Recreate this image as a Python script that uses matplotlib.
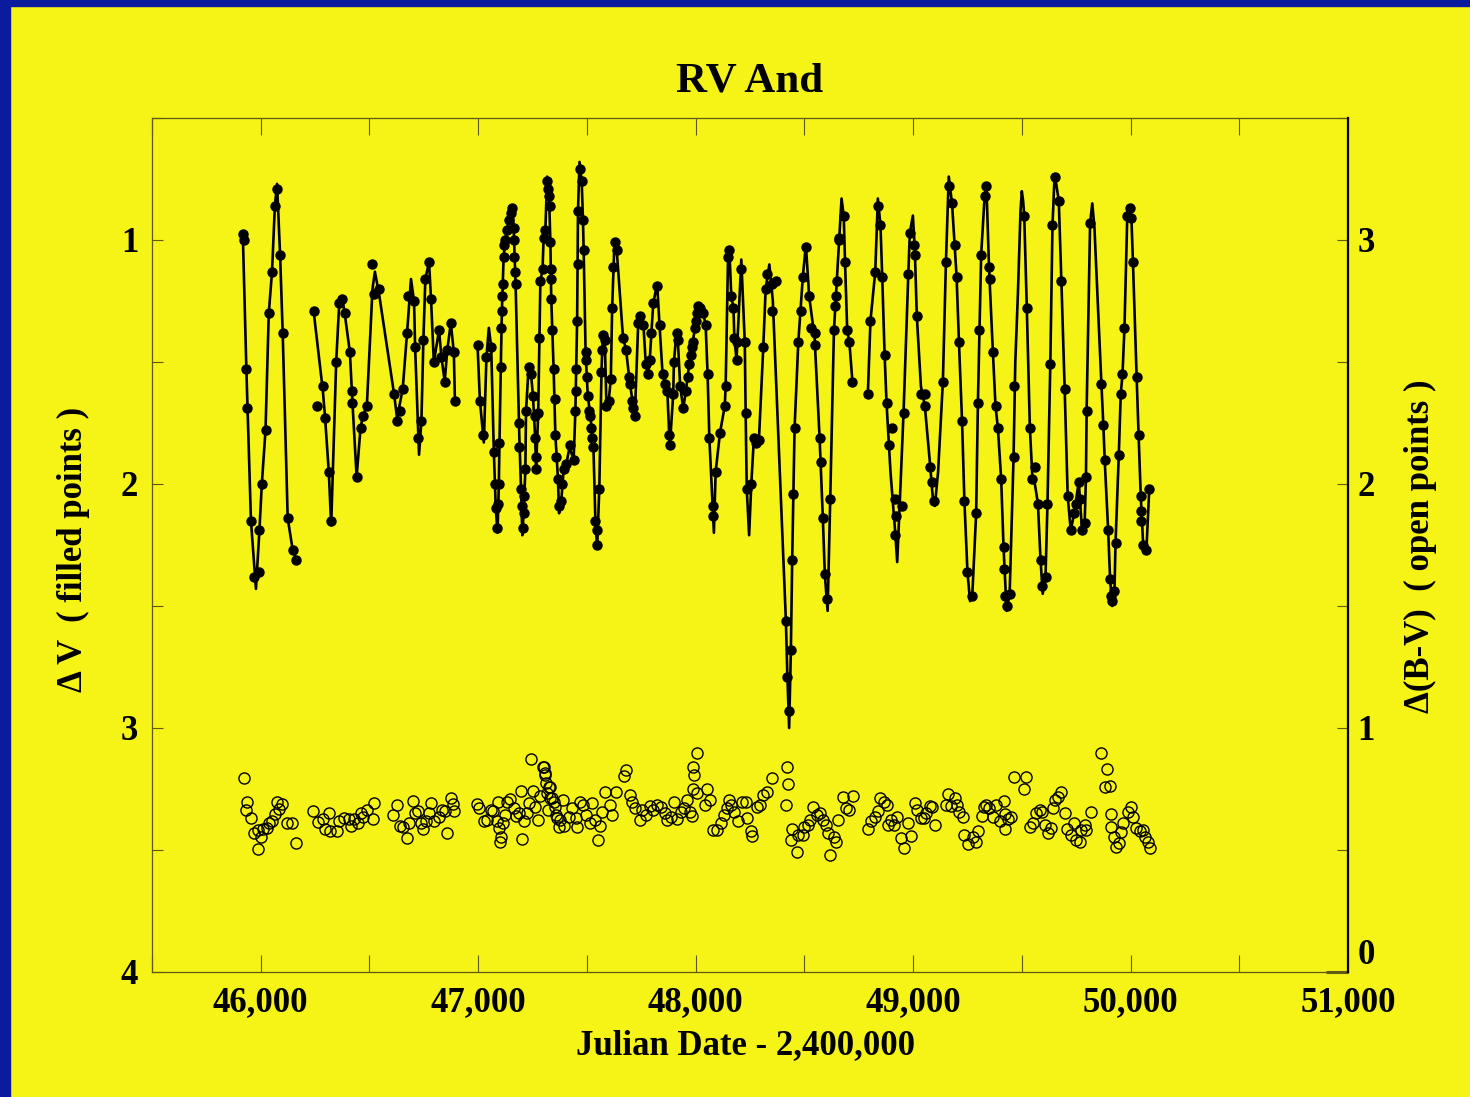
import matplotlib
matplotlib.use("Agg")
import matplotlib.pyplot as plt
from matplotlib.ticker import FuncFormatter, MultipleLocator
from matplotlib.patches import Rectangle

# Filled points: Delta V (left axis, inverted)
filled_jd = [45918, 45922, 45934, 45939, 45955, 45969, 45991, 45994, 46005, 46022, 46037, 46052, 46065, 46075,
             46089, 46101, 46124, 46147, 46163,
             46243, 46261, 46286, 46296, 46313, 46323, 46347, 46361, 46373, 46386, 46410, 46418, 46422, 46441,
             46459, 46470, 46488, 46514, 46519, 46544, 46613, 46627, 46642, 46653, 46673, 46679, 46705, 46710,
             46722, 46739, 46748, 46757, 46774, 46783, 46796, 46820, 46831, 46846, 46858, 46874, 46888, 46893,
             46997, 47008, 47024, 47038, 47060, 47072, 47078, 47081, 47086, 47090, 47095, 47098, 47104, 47106,
             47109, 47111, 47112, 47117, 47120, 47124, 47132, 47141, 47150, 47157, 47163, 47166, 47166, 47169,
             47172, 47189, 47189, 47197, 47201, 47204, 47209, 47213, 47217, 47220, 47232, 47243, 47252, 47260,
             47262, 47264, 47266, 47276, 47281, 47286, 47296, 47301, 47309, 47317, 47321, 47326, 47328, 47332,
             47333, 47335, 47336, 47341, 47347, 47352, 47355, 47359, 47367, 47373, 47382, 47387, 47393, 47405,
             47420, 47439, 47447, 47449, 47450, 47455, 47458, 47459, 47467, 47476, 47482, 47485, 47494, 47498,
             47501, 47504, 47510, 47516, 47519, 47525, 47530, 47539, 47545, 47547, 47557, 47567, 47570, 47573,
             47582, 47590, 47600, 47610, 47616, 47619, 47627, 47637, 47666, 47680, 47694, 47700, 47709, 47714,
             47720, 47736, 47746, 47760, 47771, 47782, 47789, 47797, 47805, 47823, 47834, 47848, 47860, 47870,
             47879, 47881, 47897, 47900, 47912, 47918, 47929, 47943, 47955, 47966, 47970, 47977, 47983, 47989,
             47997, 48001, 48005, 48011, 48022, 48035, 48046, 48055, 48063, 48080, 48080, 48092, 48112, 48134,
             48138, 48149, 48155, 48164, 48174, 48178, 48188, 48192, 48210, 48226, 48230, 48235, 48256, 48268,
             48277, 48291, 48311, 48322, 48328, 48350, 48353, 48369, 48415, 48422, 48430, 48438, 48444, 48450,
             48455, 48472, 48483, 48493, 48507, 48522, 48529, 48547, 48547, 48570, 48577, 48585, 48594, 48605,
             48619, 48636, 48641, 48647, 48649, 48658, 48661, 48681, 48687, 48697, 48707, 48721,
             48792, 48804, 48826, 48837, 48850, 48858, 48869, 48878, 48889, 48903, 48918, 48921, 48918, 48947,
             48956, 48978, 48985, 49006, 49010, 49017, 49036, 49053, 49054, 49079, 49085, 49097, 49137, 49151,
             49165, 49179, 49191, 49200, 49211, 49225, 49236, 49250, 49272, 49290, 49298, 49301, 49313, 49329,
             49335, 49349, 49352, 49367, 49379, 49390, 49405, 49416, 49419, 49424, 49432, 49444, 49462, 49466,
             49511, 49523, 49537, 49549, 49561, 49574, 49586, 49594, 49609, 49618, 49631, 49641, 49651, 49670,
             49682, 49697, 49711, 49725, 49741, 49747, 49762, 49768, 49777, 49789, 49795, 49798, 49814, 49866,
             49875, 49881, 49897, 49906, 49908, 49917, 49926, 49931, 49946, 49955, 49963, 49972, 49985, 49997,
             50004, 50011, 50028, 50037, 50047, 50050, 50048, 50058, 50073, 50086]
filled_dv = [0.975, 1.00, 1.53, 1.69, 2.15, 2.38, 2.36, 2.19, 2.00, 1.78, 1.30, 1.13, 0.86, 0.79,
             1.06, 1.38, 2.14, 2.27, 2.31,
             1.29, 1.68, 1.60, 1.73, 1.95, 2.15, 1.50, 1.26, 1.24, 1.30, 1.46, 1.62, 1.67, 1.97,
             1.77, 1.72, 1.68, 1.10, 1.22, 1.20, 1.63, 1.74, 1.70, 1.61, 1.38, 1.23, 1.25, 1.44,
             1.81, 1.74, 1.41, 1.16, 1.09, 1.24, 1.50, 1.37, 1.48, 1.58, 1.45, 1.34, 1.46, 1.66,
             1.43, 1.66, 1.80, 1.48, 1.44, 1.87, 2.00, 2.10, 2.18, 2.08, 2.00, 1.83, 1.52, 1.36,
             1.29, 1.23, 1.18, 1.07, 1.02, 1.00, 0.96, 0.92, 0.89, 0.87, 0.95, 1.00, 1.07, 1.13,
             1.18, 1.75, 1.85, 2.02, 2.09, 2.18, 2.12, 2.05, 1.94, 1.70, 1.52, 1.55, 1.64, 1.72,
             1.81, 1.89, 1.94, 1.71, 1.40, 1.17, 1.12, 0.99, 0.96, 0.76, 0.79, 0.82, 0.86, 1.01,
             1.12, 1.16, 1.24, 1.37, 1.53, 1.65, 1.80, 1.89, 1.98, 2.09, 2.07, 2.00, 1.94, 1.92,
             1.84, 1.90, 1.70, 1.62, 1.53, 1.33, 1.10, 0.88, 0.71, 0.76, 0.92, 1.04, 1.46, 1.49,
             1.56, 1.64, 1.70, 1.72, 1.77, 1.81, 1.85, 2.15, 2.19, 2.25, 2.02, 1.54, 1.45, 1.39,
             1.41, 1.68, 1.66, 1.57, 1.28, 1.11, 1.01, 1.04, 1.40, 1.45, 1.56, 1.59, 1.66, 1.69,
             1.72, 1.34, 1.31, 1.35, 1.51, 1.55, 1.49, 1.38, 1.26, 1.19, 1.35, 1.55, 1.59, 1.62,
             1.80, 1.84, 1.63, 1.50, 1.38, 1.41, 1.60, 1.69, 1.62, 1.56, 1.51, 1.47, 1.44, 1.42,
             1.36, 1.33, 1.30, 1.27, 1.28, 1.30, 1.35, 1.55, 1.81, 2.09, 2.13, 1.95, 1.79, 1.68,
             1.60, 1.07, 1.04, 1.23, 1.28, 1.40, 1.49, 1.42, 1.12, 1.42, 1.71, 2.02, 2.00, 1.81,
             1.83, 1.82, 1.44, 1.20, 1.14, 1.18, 1.29, 1.17, 2.56, 2.79, 2.93, 2.68, 2.31, 2.04,
             1.77, 1.42, 1.29, 1.15, 1.03, 1.23, 1.36, 1.38, 1.43, 1.81, 1.91, 2.14, 2.37, 2.47,
             2.06, 1.37, 1.27, 1.23, 1.17, 1.00, 0.99, 0.90, 1.09, 1.37, 1.42, 1.58,
             1.63, 1.33, 1.13, 0.86, 0.94, 1.15, 1.47, 1.67, 1.84, 1.77, 2.06, 2.13, 2.21, 2.09,
             1.71, 1.14, 0.97, 1.02, 1.06, 1.31, 1.63, 1.63, 1.68, 1.93, 1.99, 2.07, 1.58, 1.09,
             0.78, 0.85, 1.02, 1.15, 1.42, 1.74, 2.07, 2.36, 2.46, 2.12, 1.67, 1.37, 1.06, 0.82,
             0.78, 1.11, 1.16, 1.46, 1.68, 1.77, 1.98, 2.26, 2.35, 2.46, 2.50, 2.45, 1.89, 1.60,
             0.90, 1.28, 1.77, 1.98, 1.93, 2.08, 2.31, 2.42, 2.38, 2.08, 1.51, 0.94, 0.74, 0.84,
             1.17, 1.61, 2.05, 2.19, 2.12, 2.08, 1.99, 2.06, 2.19, 2.16, 1.97, 1.70, 0.93, 1.59,
             1.76, 1.90, 2.19, 2.39, 2.46, 2.48, 2.44, 2.24, 1.88, 1.63, 1.55, 1.36, 0.90, 0.87,
             0.91, 1.09, 1.56, 1.80, 2.05, 2.11, 2.15, 2.25, 2.27, 2.02]

# Fitted light curve, four separate stretches
curve_jd_1 = [45918, 45934, 45955, 45978, 45994, 46005, 46022, 46037, 46052, 46065, 46075, 46089, 46101,
              46124, 46147, 46163]
curve_dv_1 = [0.99, 1.53, 2.15, 2.43, 2.19, 2.00, 1.78, 1.30, 1.13, 0.86, 0.77, 1.06, 1.38,
              2.14, 2.27, 2.31]
curve_jd_2 = [46243, 46286, 46296, 46313, 46324, 46347, 46361, 46373, 46386, 46410, 46422, 46441, 46459,
              46470, 46488, 46514, 46525, 46544, 46613, 46627, 46653, 46673, 46691, 46705, 46710, 46728,
              46739, 46748, 46757, 46774, 46783, 46796, 46820, 46831, 46846, 46858, 46874, 46888, 46893]
curve_dv_2 = [1.29, 1.62, 1.73, 1.95, 2.17, 1.50, 1.26, 1.23, 1.30, 1.46, 1.67, 1.97, 1.77,
              1.72, 1.68, 1.20, 1.13, 1.22, 1.63, 1.73, 1.61, 1.38, 1.16, 1.25, 1.44, 1.88,
              1.74, 1.41, 1.16, 1.09, 1.24, 1.50, 1.37, 1.48, 1.58, 1.45, 1.34, 1.46, 1.66]
curve_jd_3 = [46997, 47008, 47026, 47038, 47049, 47060, 47072, 47081, 47089, 47095, 47098, 47104, 47109,
              47117, 47124, 47141, 47157, 47163, 47166, 47172, 47189, 47197, 47203, 47209, 47217, 47220,
              47232, 47243, 47252, 47262, 47266, 47276, 47286, 47296, 47301, 47309, 47317, 47326, 47332,
              47336, 47341, 47347, 47355, 47367, 47372, 47382, 47393, 47405, 47420, 47439, 47447, 47455,
              47459, 47466, 47476, 47482, 47485, 47494, 47504, 47516, 47530, 47539, 47547, 47557, 47567,
              47573, 47582, 47590, 47600, 47610, 47616, 47627, 47637, 47666, 47680, 47694, 47709, 47720,
              47736, 47746, 47760, 47771, 47782, 47789, 47805, 47823, 47834, 47848, 47860, 47870, 47881,
              47897, 47900, 47912, 47918, 47929, 47943, 47955, 47970, 47983, 47997, 48011, 48022, 48035,
              48046, 48055, 48063, 48080, 48084, 48092, 48112, 48134, 48138, 48149, 48155, 48164, 48174,
              48178, 48188, 48192, 48210, 48226, 48230, 48235, 48246, 48256, 48268, 48277, 48291, 48311,
              48322, 48339, 48355, 48415, 48422, 48430, 48438, 48444, 48455, 48472, 48493, 48507, 48522,
              48547, 48570, 48585, 48594, 48607, 48619, 48636, 48649, 48661, 48671, 48681, 48687, 48697,
              48707, 48721]
curve_dv_3 = [1.43, 1.66, 1.83, 1.48, 1.36, 1.44, 1.87, 2.10, 2.20, 2.00, 1.83, 1.52, 1.29,
              1.07, 1.00, 0.92, 0.86, 0.95, 1.03, 1.18, 1.80, 2.02, 2.21, 2.12, 1.94, 1.70,
              1.52, 1.55, 1.64, 1.81, 1.94, 1.71, 1.17, 1.12, 0.99, 0.96, 0.74, 0.82, 1.01,
              1.24, 1.37, 1.53, 1.80, 1.98, 2.12, 2.07, 1.94, 1.92, 1.85, 1.90, 1.70, 1.33,
              0.88, 0.68, 0.76, 0.92, 1.04, 1.46, 1.64, 1.72, 1.85, 2.15, 2.26, 2.02, 1.54,
              1.39, 1.41, 1.68, 1.66, 1.57, 1.28, 1.00, 1.04, 1.40, 1.45, 1.56, 1.66, 1.73,
              1.34, 1.31, 1.35, 1.51, 1.55, 1.49, 1.26, 1.18, 1.35, 1.55, 1.59, 1.62, 1.85,
              1.63, 1.50, 1.38, 1.41, 1.60, 1.69, 1.62, 1.51, 1.44, 1.36, 1.27, 1.28, 1.30,
              1.35, 1.55, 1.81, 2.12, 2.20, 1.95, 1.79, 1.68, 1.60, 1.07, 1.04, 1.23, 1.28,
              1.40, 1.49, 1.42, 1.08, 1.42, 1.71, 2.02, 2.21, 2.00, 1.81, 1.83, 1.82, 1.44,
              1.20, 1.10, 1.25, 2.56, 2.79, 3.00, 2.68, 2.31, 1.77, 1.42, 1.15, 1.02, 1.23,
              1.40, 1.81, 2.14, 2.37, 2.52, 2.06, 1.37, 1.17, 0.99, 0.83, 0.90, 1.09, 1.37,
              1.42, 1.58]
curve_jd_4 = [48792, 48804, 48826, 48838, 48850, 48858, 48869, 48878, 48896, 48918, 48927, 48940, 48956,
              48978, 48985, 48999, 49008, 49017, 49036, 49054, 49079, 49090, 49100, 49115, 49137, 49151,
              49164, 49179, 49191, 49200, 49211, 49225, 49236, 49250, 49262, 49272, 49290, 49298, 49313,
              49329, 49337, 49349, 49367, 49379, 49390, 49405, 49416, 49430, 49444, 49462, 49470, 49482,
              49494, 49500, 49506, 49511, 49523, 49537, 49549, 49560, 49574, 49586, 49596, 49609, 49618,
              49631, 49641, 49651, 49660, 49670, 49682, 49697, 49711, 49725, 49741, 49747, 49762, 49770,
              49777, 49789, 49795, 49798, 49814, 49824, 49834, 49866, 49875, 49881, 49897, 49906, 49915,
              49926, 49931, 49946, 49955, 49963, 49972, 49985, 49993, 50004, 50011, 50028, 50037, 50047,
              50058, 50073, 50086]
curve_dv_4 = [1.63, 1.33, 1.13, 0.83, 0.94, 1.15, 1.47, 1.67, 1.95, 2.20, 2.32, 2.05, 1.71,
              1.14, 0.97, 0.90, 1.04, 1.31, 1.60, 1.68, 1.93, 2.05, 2.09, 1.95, 1.58, 1.09,
              0.74, 0.85, 1.02, 1.15, 1.42, 1.74, 2.07, 2.36, 2.48, 2.46, 2.12, 1.67, 1.06,
              0.82, 0.77, 1.11, 1.46, 1.68, 1.77, 1.98, 2.26, 2.52, 2.45, 1.89, 1.50, 1.22,
              0.88, 0.80, 0.84, 0.90, 1.28, 1.77, 1.98, 2.00, 2.08, 2.31, 2.45, 2.38, 2.08,
              1.51, 0.94, 0.73, 0.78, 0.84, 1.17, 1.61, 2.05, 2.19, 2.12, 2.08, 1.99, 2.10,
              2.19, 2.16, 1.97, 1.70, 0.93, 0.85, 0.95, 1.59, 1.76, 1.90, 2.19, 2.39, 2.50,
              2.44, 2.24, 1.88, 1.63, 1.55, 1.36, 0.90, 0.86, 0.91, 1.09, 1.56, 1.80, 2.05,
              2.25, 2.27, 2.02]

# Open points: Delta(B-V) (right axis)
open_jd = [45922, 45939, 45931, 45954, 45968, 45986, 45988, 46003, 46012, 46031, 46040, 46054, 46065, 46074,
           46086, 46098, 46123, 46144, 46161, 46241, 46263, 46286, 46313, 46295, 46318, 46349, 46361, 46382,
           46407, 46413, 46429, 46448, 46461, 46471, 46490, 46515, 46521, 46610, 46628, 46641, 46653, 46671,
           46683, 46700, 46708, 46723, 46737, 46748, 46760, 46773, 46782, 46799, 46822, 46834, 46857, 46848,
           46874, 46889, 46886, 46994, 47006, 47028, 47040, 47058, 47070, 47093, 47086, 47098, 47105, 47101,
           47114, 47124, 47132, 47147, 47163, 47175, 47190, 47197, 47203, 47209, 47224, 47232, 47244, 47252,
           47263, 47273, 47286, 47298, 47305, 47313, 47316, 47328, 47340, 47355, 47363, 47370, 47301, 47309,
           47324, 47332, 47319, 47347, 47359, 47390, 47378, 47396, 47416, 47432, 47452, 47455, 47470, 47482,
           47498, 47513, 47524, 47539, 47550, 47559, 47570, 47585, 47608, 47616, 47636, 47670, 47682, 47697,
           47708, 47723, 47743, 47754, 47774, 47789, 47805, 47823, 47842, 47857, 47869, 47888, 47900, 47916,
           47931, 47946, 47962, 47974, 47985, 47989, 47992, 47988, 48004, 48006, 48041, 48054, 48064, 48081,
           48097, 48115, 48130, 48143, 48153, 48164, 48176, 48195, 48215, 48230, 48238, 48253, 48261, 48281,
           48296, 48312, 48327, 48349, 48422, 48425, 48416, 48445, 48438, 48465, 48471, 48492, 48499, 48515,
           48527, 48542, 48557, 48573, 48584, 48599, 48607, 48619, 48637, 48645, 48656, 48676, 48691, 48706,
           48722, 48791, 48806, 48825, 48837, 48849, 48865, 48880, 48886, 48898, 48914, 48926, 48944, 48957,
           48978, 48991, 49009, 49018, 49037, 49049, 49060, 49080, 49087, 49101, 49152, 49162, 49175, 49193,
           49202, 49209, 49229, 49236, 49252, 49275, 49290, 49298, 49316, 49326, 49336, 49347, 49367, 49382,
           49398, 49418, 49424, 49421, 49436, 49448, 49464, 49510, 49521, 49536, 49551, 49567, 49582, 49593,
           49605, 49621, 49636, 49644, 49654, 49667, 49682, 49697, 49709, 49725, 49740, 49751, 49766, 49774,
           49789, 49797, 49817, 49866, 49894, 49881, 49904, 49909, 49912, 49925, 49935, 49946, 49955, 49966,
           49989, 50004, 50012, 50027, 50042, 50058, 50066, 50081, 50089]
open_bv = [0.796, 0.698, 0.665, 0.631, 0.570, 0.582, 0.505, 0.552, 0.585, 0.591, 0.612, 0.619, 0.648, 0.698,
           0.667, 0.687, 0.609, 0.609, 0.527, 0.660, 0.613, 0.626, 0.653, 0.585, 0.579, 0.577, 0.619, 0.630,
           0.626, 0.598, 0.626, 0.609, 0.653, 0.637, 0.664, 0.626, 0.694, 0.642, 0.684, 0.598, 0.593, 0.551,
           0.609, 0.699, 0.650, 0.658, 0.612, 0.585, 0.618, 0.653, 0.691, 0.619, 0.634, 0.664, 0.568, 0.661,
           0.712, 0.661, 0.689, 0.687, 0.671, 0.617, 0.623, 0.664, 0.661, 0.698, 0.620, 0.589, 0.555, 0.534,
           0.609, 0.643, 0.698, 0.708, 0.671, 0.639, 0.653, 0.743, 0.545, 0.617, 0.650, 0.691, 0.872, 0.743,
           0.678, 0.623, 0.721, 0.839, 0.817, 0.776, 0.732, 0.760, 0.712, 0.678, 0.630, 0.596, 0.841, 0.807,
           0.760, 0.712, 0.664, 0.698, 0.643, 0.705, 0.623, 0.598, 0.637, 0.671, 0.630, 0.596, 0.698, 0.684,
           0.643, 0.609, 0.691, 0.623, 0.541, 0.598, 0.657, 0.739, 0.684, 0.643, 0.739, 0.803, 0.828, 0.725,
           0.698, 0.671, 0.623, 0.664, 0.643, 0.680, 0.664, 0.684, 0.678, 0.653, 0.623, 0.637, 0.698, 0.626,
           0.657, 0.671, 0.705, 0.657, 0.639, 0.752, 0.807, 0.841, 0.899, 0.735, 0.684, 0.750, 0.705, 0.582,
           0.582, 0.609, 0.643, 0.671, 0.705, 0.684, 0.657, 0.617, 0.698, 0.698, 0.630, 0.579, 0.557, 0.678,
           0.684, 0.725, 0.739, 0.794, 0.839, 0.770, 0.684, 0.585, 0.541, 0.493, 0.562, 0.562, 0.596, 0.602,
           0.623, 0.678, 0.643, 0.650, 0.623, 0.602, 0.568, 0.480, 0.555, 0.534, 0.623, 0.719, 0.671, 0.664,
           0.721, 0.585, 0.617, 0.634, 0.661, 0.712, 0.698, 0.684, 0.602, 0.623, 0.602, 0.634, 0.548, 0.507,
           0.609, 0.557, 0.691, 0.664, 0.630, 0.630, 0.650, 0.680, 0.678, 0.602, 0.684, 0.730, 0.680, 0.712,
           0.684, 0.657, 0.637, 0.562, 0.525, 0.555, 0.534, 0.579, 0.639, 0.678, 0.684, 0.671, 0.637, 0.684,
           0.617, 0.702, 0.648, 0.585, 0.626, 0.637, 0.798, 0.752, 0.798, 0.593, 0.612, 0.650, 0.664, 0.657,
           0.602, 0.568, 0.589, 0.671, 0.705, 0.719, 0.739, 0.653, 0.585, 0.562, 0.612, 0.541, 0.534, 0.582,
           0.602, 0.582, 0.657, 0.899, 0.831, 0.757, 0.762, 0.648, 0.593, 0.555, 0.511, 0.530, 0.575, 0.609,
           0.657, 0.678, 0.637, 0.589, 0.579, 0.582, 0.555, 0.534, 0.507]

x_ticks = [46000, 47000, 48000, 49000, 50000, 51000]
left_ticks = [1, 2, 3, 4]
right_ticks = [0, 1, 2, 3]

bg = "#f6f316"
frame = "#5e5a14"
serif = ["Liberation Serif", "DejaVu Serif"]
plt.rcParams["font.family"] = serif
plt.rcParams["font.weight"] = "bold"

fig = plt.figure(figsize=(14.7, 10.97), dpi=100, facecolor=bg)
# blue slide border on the left and top
fig.patches.append(Rectangle((0, 0), 10 / 1470, 1, transform=fig.transFigure, color="#0b1b9e", zorder=0))
fig.patches.append(Rectangle((0, 1 - 6 / 1097), 1, 6 / 1097, transform=fig.transFigure, color="#0b1b9e", zorder=0))

ax = fig.add_axes([152 / 1470, 1 - 972 / 1097, 1196 / 1470, 854 / 1097])
ax.set_facecolor(bg)
ax.set_xlim(45500, 51000)
ax.set_ylim(4, 0.5)

# light curve + filled points
for cj, cv in [(curve_jd_1, curve_dv_1), (curve_jd_2, curve_dv_2),
               (curve_jd_3, curve_dv_3), (curve_jd_4, curve_dv_4)]:
    ax.plot(cj, cv, color="black", lw=1.9, solid_joinstyle="round", zorder=3)
ax.plot(filled_jd, filled_dv, "o", color="black", ms=6.5, zorder=4)

ax.set_xticks(x_ticks)
ax.xaxis.set_minor_locator(MultipleLocator(500))
ax.xaxis.set_major_formatter(FuncFormatter(lambda v, p: f"{v:,.0f}"))
ax.set_yticks(left_ticks)
ax.yaxis.set_minor_locator(MultipleLocator(0.5))
ax.tick_params(axis="x", which="both", direction="in", top=True, length=12, width=0.8,
               color=frame, labelsize=25, pad=10)
ax.tick_params(axis="y", which="both", direction="in", right=False, length=8, width=0.8,
               color=frame, labelsize=25, pad=10)
for s in ["left", "top", "bottom"]:
    ax.spines[s].set_color(frame)
    ax.spines[s].set_linewidth(0.9)
ax.spines["right"].set_visible(False)

ax2 = ax.twinx()
ax2.set_ylim(0, 3.5)
ax2.plot(open_jd, open_bv, "o", mfc="none", mec="black", mew=1.0, ms=8, zorder=3)
ax2.set_yticks(right_ticks)
ax2.yaxis.set_minor_locator(MultipleLocator(0.5))
ax2.tick_params(axis="y", which="both", direction="in", length=8, width=0.8,
                color=frame, labelsize=25, pad=7)
for s in ["left", "top", "bottom"]:
    ax2.spines[s].set_visible(False)
ax2.spines["right"].set_color("black")
ax2.spines["right"].set_linewidth(1.6)

# the zero tick on the right axis is a longer, heavier black mark with its label lifted
zero_tick = ax2.yaxis.get_major_ticks()[0]
zero_tick.tick2line.set_markersize(16)
zero_tick.tick2line.set_markeredgewidth(2.2)
zero_tick.tick2line.set_color("black")
zero_tick.label2.set_verticalalignment("bottom")

fig.text(0.510, 0.926, "RV And", ha="center", va="center", fontsize=31, fontweight="bold")
fig.text(0.507, 0.047, "Julian Date - 2,400,000", ha="center", va="center", fontsize=25, fontweight="bold")
fig.text(0.050, 0.499, "Δ V  ( filled points )", ha="center", va="center", rotation=90,
         fontsize=25, fontweight="bold")
fig.text(0.966, 0.502, "Δ(B-V)  ( open points )", ha="center", va="center", rotation=90,
         fontsize=25, fontweight="bold")

fig.savefig("out.png", dpi=100, facecolor=bg)
